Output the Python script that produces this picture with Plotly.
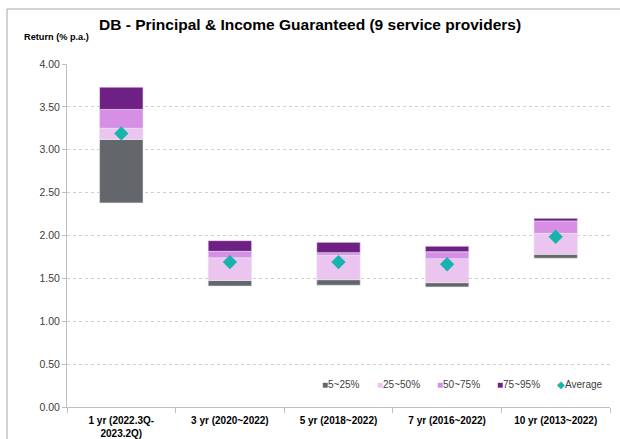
import plotly.graph_objects as go

categories = ["1 yr (2022.3Q-<br>2023.2Q)", "3 yr (2020~2022)", "5 yr (2018~2022)",
              "7 yr (2016~2022)", "10 yr (2013~2022)"]
p5 = [2.38, 1.41, 1.42, 1.40, 1.735]
p25 = [3.12, 1.475, 1.485, 1.45, 1.78]
p50 = [3.25, 1.74, 1.77, 1.73, 2.025]
p75 = [3.47, 1.815, 1.80, 1.81, 2.17]
p95 = [3.73, 1.94, 1.92, 1.875, 2.20]
average = [3.19, 1.69, 1.69, 1.665, 1.985]

band_names = ["5~25%", "25~50%", "50~75%", "75~95%"]
band_colors = ["#63666a", "#ebc5f0", "#d68fe5", "#6f2085"]
avg_color = "#17b3ad"
bounds = [p5, p25, p50, p75, p95]

FONT = "Liberation Sans, Arial, sans-serif"
L, R, T, B = 67, 10, 64, 32
W, H = 620, 439
PW, PH = W - L - R, H - T - B


def px_x(px):
    return (px - L) / PW


def px_y(py):
    return (H - B - py) / PH


fig = go.Figure()
for i, name in enumerate(band_names):
    lo = bounds[i]
    hi = bounds[i + 1]
    fig.add_trace(go.Bar(
        x=categories, y=[h - l for h, l in zip(hi, lo)], base=lo,
        name=name, marker=dict(color=band_colors[i], line=dict(color="#e8e8ee", width=0.6)),
        width=0.4, showlegend=False,
    ))
fig.add_trace(go.Scatter(
    x=categories, y=average, mode="markers", name="Average", showlegend=False,
    marker=dict(symbol="diamond", size=11, color=avg_color),
))

# frame lines (top and left)
fig.add_shape(type="line", xref="paper", yref="paper", x0=px_x(7), x1=px_x(625),
              y0=px_y(9), y1=px_y(9), line=dict(color="#a6a6a6", width=1))
fig.add_shape(type="line", xref="paper", yref="paper", x0=px_x(7), x1=px_x(7),
              y0=px_y(9), y1=px_y(445), line=dict(color="#a6a6a6", width=1))

annotations = [dict(text="Return (% p.a.)", xref="paper", yref="paper",
                    x=px_x(22), y=px_y(37), xanchor="left", yanchor="middle", showarrow=False,
                    font=dict(family=FONT, size=9.2, color="#000000", weight="bold"))]

# compact legend
legend_labels = band_names + ["Average"]
legend_colors = band_colors + [avg_color]
legend_symbols = ["■", "■", "■", "■", "◆"]
legend_x = [320, 375, 435, 495, 555]
for lab, col, sym, lx in zip(legend_labels, legend_colors, legend_symbols, legend_x):
    annotations.append(dict(
        text=f"<span style='color:{col};font-size:10px'>{sym}</span>{lab}",
        xref="paper", yref="paper", x=px_x(lx), y=px_y(384), xanchor="left", yanchor="middle",
        showarrow=False, font=dict(family=FONT, size=10, color="#404040")))

# title as annotation for precise placement
annotations.append(dict(
    text="DB - Principal & Income Guaranteed (9 service providers)",
    xref="paper", yref="paper", x=px_x(310), y=px_y(24), xanchor="center", yanchor="middle",
    showarrow=False, font=dict(family=FONT, size=15.5, color="#000000", weight="bold")))

fig.update_layout(
    width=W, height=H,
    margin=dict(l=L, r=R, t=T, b=B),
    paper_bgcolor="white", plot_bgcolor="white",
    barmode="overlay",
    font=dict(family=FONT, color="#404040", size=10),
    showlegend=False,
    annotations=annotations,
)
fig.update_xaxes(
    showline=True, linecolor="#bfbfbf", linewidth=1, automargin=False,
    ticks="outside", tickson="boundaries", ticklen=5, tickcolor="#bfbfbf",
    tickfont=dict(family=FONT, size=10, color="#000000", weight="bold"),
    ticklabelstandoff=4,
    showgrid=False,
)
fig.update_yaxes(
    range=[0, 4.0], dtick=0.5, tickformat=".2f", automargin=False,
    showline=True, linecolor="#bfbfbf", linewidth=1,
    ticks="outside", ticklen=4, tickcolor="#bfbfbf",
    showgrid=True, gridcolor="#cfcfcf", griddash="dot", gridwidth=1,
    tickfont=dict(family=FONT, size=10.5, color="#404040"),
    zeroline=False,
)
fig.write_html("out.html")
